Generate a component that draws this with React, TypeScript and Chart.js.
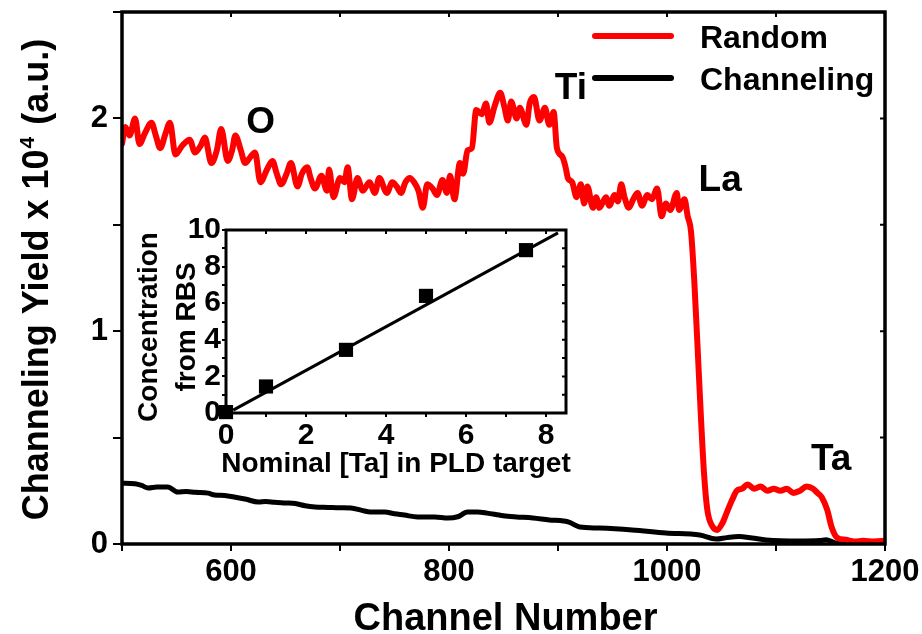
import React, { useEffect, useRef } from "react";
import { Chart, registerables } from "chart.js";

Chart.register(...registerables);

const FONT = "'Liberation Sans', Arial, Helvetica, sans-serif";

// ---- Main spectrum data ----
const randomCh = [
  500, 503, 507, 512, 516, 521, 527, 531, 535, 540, 544, 549, 555, 562, 567, 572, 576, 582, 587, 591,
  597, 601, 604, 609, 613, 618, 622, 627, 633, 638, 642, 646, 651, 655, 661, 665, 670, 673, 677, 683,
  688, 690, 694, 700, 704, 707, 711, 716, 721, 727, 732, 736, 743, 748, 752, 756, 760, 764, 768, 772,
  776, 780, 785, 789, 794, 798, 801, 805, 810, 813, 817, 821, 825, 830, 834, 837, 842, 847, 851, 854,
  857, 862, 865, 871, 874, 878, 883, 888, 892, 896, 899, 904, 907, 909, 913, 917, 921, 924, 927, 932,
  935, 938, 944, 947, 952, 955, 958, 961, 965, 969, 973, 977, 982, 986, 991, 995, 999, 1003, 1009, 1011,
  1016, 1019, 1022, 1025, 1028, 1031, 1034, 1037, 1042, 1046, 1051, 1055, 1060, 1064, 1069, 1074, 1080, 1086, 1092, 1098,
  1104, 1110, 1116, 1122, 1128, 1134, 1138, 1142, 1147, 1151, 1156, 1164, 1172, 1180, 1190, 1200,
];
const randomYield = [
  1.88, 1.96, 1.92, 2.0, 1.88, 1.93, 1.98, 1.92, 1.86, 1.93, 1.98, 1.83, 1.87, 1.9, 1.84, 1.87, 1.91, 1.79, 1.85, 1.95,
  1.8, 1.85, 1.92, 1.85, 1.79, 1.82, 1.84, 1.7, 1.76, 1.8, 1.74, 1.69, 1.74, 1.79, 1.68, 1.74, 1.77, 1.72, 1.67, 1.73,
  1.66, 1.76, 1.63, 1.72, 1.7, 1.77, 1.62, 1.72, 1.66, 1.7, 1.65, 1.72, 1.65, 1.7, 1.68, 1.65, 1.7, 1.72, 1.7, 1.66,
  1.58, 1.69, 1.67, 1.64, 1.71, 1.65, 1.73, 1.62, 1.79, 1.74, 1.85, 1.86, 2.04, 2.02, 2.07, 1.98, 2.06, 2.12, 2.05, 1.99,
  2.08, 2.0, 2.05, 1.97, 2.07, 2.1, 1.99, 2.05, 1.97, 2.03, 1.86, 1.82, 1.77, 1.72, 1.7, 1.63, 1.69, 1.6, 1.68, 1.58,
  1.63, 1.58, 1.63, 1.59, 1.64, 1.61, 1.69, 1.63, 1.58, 1.62, 1.65, 1.59, 1.64, 1.62, 1.67, 1.54, 1.6, 1.57, 1.65, 1.57,
  1.62, 1.54, 1.47, 1.24, 0.93, 0.61, 0.33, 0.16, 0.08, 0.066, 0.1, 0.15, 0.21, 0.25, 0.26, 0.28, 0.26, 0.27, 0.25, 0.26,
  0.25, 0.26, 0.24, 0.25, 0.27, 0.26, 0.24, 0.22, 0.16, 0.08, 0.03, 0.02, 0.012, 0.015, 0.012, 0.015,
];
const channelingCh = [
  500, 503, 512, 518, 524, 532, 542, 551, 559, 567, 579, 585, 594, 604, 614, 625, 632, 640, 650, 659,
  668, 677, 689, 700, 710, 720, 728, 741, 750, 759, 771, 787, 799, 808, 817, 826, 835, 846, 854, 862,
  877, 892, 905, 910, 916, 920, 938, 968, 999, 1030, 1045, 1055, 1066, 1078, 1091, 1121, 1140, 1146, 1155, 1175, 1200,
];
const channelingYield = [
  0.285, 0.286, 0.283, 0.275, 0.263, 0.268, 0.268, 0.244, 0.247, 0.243, 0.239, 0.23, 0.228, 0.22, 0.21, 0.197, 0.2, 0.196, 0.193, 0.19,
  0.18, 0.174, 0.172, 0.17, 0.169, 0.158, 0.15, 0.15, 0.142, 0.136, 0.127, 0.127, 0.122, 0.128, 0.15, 0.15, 0.145, 0.136, 0.13, 0.127,
  0.122, 0.113, 0.108, 0.103, 0.088, 0.08, 0.075, 0.066, 0.052, 0.042, 0.023, 0.03, 0.035, 0.028, 0.019, 0.014, 0.016, 0.02, 0.005, 0.004, 0.004,
];
const seriesLabels = ["Random", "Channeling"];
const seriesColors = ["#ff0000", "#000000"];
const xTickLabels = [600, 800, 1000, 1200];
const yTickLabels = [0, 1, 2];
const peakLabels = ["O", "Ti", "La", "Ta"];
const peakAnchorCh = [614, 897, 1029, 1132];
const peakAnchorYield = [1.93, 2.09, 1.66, 0.35];

// ---- Inset data ----
const insetNominal = [0, 1, 3, 5, 7.5];
const insetMeasured = [0.05, 1.45, 3.45, 6.4, 8.9];
const fitNominal = [0.18, 8.3];
const fitMeasured = [0.16, 9.84];
const insetXTickLabels = [0, 2, 4, 6, 8];
const insetYTickLabels = [0, 2, 4, 6, 8, 10];

const isIn = (list: number[], v: number) => list.some((t) => Math.abs(t - v) < 1e-6);

const mainPlugin = {
  id: "mainDecor",
  afterDraw(chart: any) {
    const ctx: CanvasRenderingContext2D = chart.ctx;
    const a = chart.chartArea;
    const xs = chart.scales.x;
    const ys = chart.scales.y;
    ctx.save();
    ctx.strokeStyle = "#000";
    ctx.lineWidth = 3.5;
    ctx.strokeRect(a.left, a.top, a.right - a.left, a.bottom - a.top);
    ctx.lineWidth = 2;
    ctx.beginPath();
    xs.ticks.forEach((t: any) => {
      const px = xs.getPixelForValue(t.value);
      ctx.moveTo(px, a.top);
      ctx.lineTo(px, a.top + 5);
    });
    ys.ticks.forEach((t: any) => {
      const py = ys.getPixelForValue(t.value);
      ctx.moveTo(a.right, py);
      ctx.lineTo(a.right - 5, py);
    });
    ctx.stroke();

    ctx.fillStyle = "#000";
    const F = 36;
    const big = `bold ${F}px ${FONT}`;
    const small = `bold 21px ${FONT}`;
    const p1 = "Channeling Yield x 10";
    const sup = "4";
    const p2 = " (a.u.)";
    ctx.font = big;
    const w1 = ctx.measureText(p1).width;
    const w3 = ctx.measureText(p2).width;
    ctx.font = small;
    const w2 = ctx.measureText(sup).width + 2;
    const total = w1 + w2 + w3;
    ctx.save();
    ctx.translate(48, (a.top + a.bottom) / 2 + 2);
    ctx.rotate(-Math.PI / 2);
    ctx.textAlign = "left";
    ctx.textBaseline = "alphabetic";
    let x = -total / 2;
    ctx.font = big;
    ctx.fillText(p1, x, 0);
    x += w1 + 1;
    ctx.font = small;
    ctx.fillText(sup, x, -14);
    x += w2;
    ctx.font = big;
    ctx.fillText(p2, x, 0);
    ctx.restore();

    ctx.font = `bold 38px ${FONT}`;
    ctx.textAlign = "center";
    ctx.textBaseline = "alphabetic";
    ctx.fillText("Channel Number", (a.left + a.right) / 2 + 2, 630);

    ctx.font = `bold 37px ${FONT}`;
    ctx.textAlign = "left";
    peakLabels.forEach((lab, i) => {
      ctx.fillText(lab, xs.getPixelForValue(peakAnchorCh[i]), ys.getPixelForValue(peakAnchorYield[i]));
    });

    ctx.font = `bold 32px ${FONT}`;
    ctx.lineCap = "round";
    chart.data.datasets.forEach((ds: any, i: number) => {
      const ly = 36 + i * 42;
      ctx.strokeStyle = ds.borderColor;
      ctx.lineWidth = 6;
      ctx.beginPath();
      ctx.moveTo(595, ly);
      ctx.lineTo(671, ly);
      ctx.stroke();
      ctx.fillStyle = "#000";
      ctx.fillText(ds.label, 700, ly + 12);
    });
    ctx.restore();
  },
};

const insetPlugin = {
  id: "insetDecor",
  afterDraw(chart: any) {
    const ctx: CanvasRenderingContext2D = chart.ctx;
    const a = chart.chartArea;
    const xs = chart.scales.x;
    const ys = chart.scales.y;
    ctx.save();
    ctx.strokeStyle = "#000";
    ctx.lineWidth = 3;
    ctx.strokeRect(a.left, a.top, a.right - a.left, a.bottom - a.top);
    ctx.lineWidth = 2;
    ctx.beginPath();
    xs.ticks.forEach((t: any) => {
      const px = xs.getPixelForValue(t.value);
      ctx.moveTo(px, a.top);
      ctx.lineTo(px, a.top + 4);
    });
    ys.ticks.forEach((t: any) => {
      const py = ys.getPixelForValue(t.value);
      ctx.moveTo(a.right, py);
      ctx.lineTo(a.right - 4, py);
    });
    ctx.stroke();

    ctx.fillStyle = "#000";
    ctx.font = `bold 28px ${FONT}`;
    ctx.textAlign = "center";
    ctx.textBaseline = "alphabetic";
    ctx.fillText("Nominal [Ta] in PLD target", (a.left + a.right) / 2, 272);

    ctx.save();
    ctx.translate(0, 127);
    ctx.rotate(-Math.PI / 2);
    ctx.fillText("Concentration", 0, 37);
    ctx.fillText("from RBS", 0, 75);
    ctx.restore();
    ctx.restore();
  },
};

export default function App() {
  const mainRef = useRef<HTMLCanvasElement | null>(null);
  const insetRef = useRef<HTMLCanvasElement | null>(null);

  useEffect(() => {
    if (!mainRef.current || !insetRef.current) return;
    const tickFont = { family: FONT, size: 31, weight: "bold" as const };
    const main = new Chart(mainRef.current, {
      type: "line",
      data: {
        datasets: [
          {
            label: seriesLabels[0],
            data: randomCh.map((x, i) => ({ x, y: randomYield[i] })),
            borderColor: seriesColors[0],
            borderWidth: 6,
            pointRadius: 0,
            cubicInterpolationMode: "monotone",
            borderJoinStyle: "round",
            borderCapStyle: "round",
          },
          {
            label: seriesLabels[1],
            data: channelingCh.map((x, i) => ({ x, y: channelingYield[i] })),
            borderColor: seriesColors[1],
            borderWidth: 5,
            pointRadius: 0,
            cubicInterpolationMode: "monotone",
            borderJoinStyle: "round",
            borderCapStyle: "round",
          },
        ],
      },
      options: {
        animation: false,
        responsive: false,
        maintainAspectRatio: false,
        devicePixelRatio: 1,
        layout: { padding: { left: 0, top: 12, right: 37, bottom: 0 } },
        plugins: { legend: { display: false }, tooltip: { enabled: false } },
        scales: {
          x: {
            type: "linear",
            min: 500,
            max: 1200,
            ticks: {
              stepSize: 100,
              autoSkip: false,
              maxRotation: 0,
              color: "#000",
              font: tickFont,
              padding: 3,
              callback: (v: any) => (isIn(xTickLabels, Number(v)) ? String(Math.round(Number(v))) : ""),
            },
            grid: { drawOnChartArea: false, drawTicks: true, tickLength: 7, color: "#000", lineWidth: 2 },
            border: { display: false },
            afterFit: (s: any) => {
              s.height = 90;
              s.paddingLeft = 0;
              s.paddingRight = 0;
            },
          },
          y: {
            type: "linear",
            min: 0,
            max: 2.5,
            ticks: {
              stepSize: 0.5,
              autoSkip: false,
              color: "#000",
              font: tickFont,
              padding: 5,
              callback: (v: any) => (isIn(yTickLabels, Number(v)) ? String(Math.round(Number(v))) : ""),
            },
            grid: { drawOnChartArea: false, drawTicks: true, tickLength: 9, color: "#000", lineWidth: 2 },
            border: { display: false },
            afterFit: (s: any) => {
              s.width = 122;
              s.paddingTop = 0;
              s.paddingBottom = 0;
            },
          },
        },
      },
      plugins: [mainPlugin],
    } as any);

    const insetFont = { family: FONT, size: 30, weight: "bold" as const };
    const inset = new Chart(insetRef.current, {
      type: "scatter",
      data: {
        datasets: [
          {
            type: "scatter",
            label: "RBS",
            data: insetNominal.map((x, i) => ({ x, y: insetMeasured[i] })),
            pointStyle: "rect",
            pointRadius: 10,
            backgroundColor: "#000",
            borderColor: "#000",
            borderWidth: 0,
            clip: false,
          },
          {
            type: "line",
            label: "fit",
            data: fitNominal.map((x, i) => ({ x, y: fitMeasured[i] })),
            borderColor: "#000",
            borderWidth: 3,
            pointRadius: 0,
            showLine: true,
          },
        ],
      },
      options: {
        animation: false,
        responsive: false,
        maintainAspectRatio: false,
        devicePixelRatio: 1,
        layout: { padding: { left: 0, top: 30, right: 24, bottom: 0 } },
        plugins: { legend: { display: false }, tooltip: { enabled: false } },
        scales: {
          x: {
            type: "linear",
            min: 0,
            max: 8.5,
            ticks: {
              stepSize: 1,
              includeBounds: false,
              autoSkip: false,
              maxRotation: 0,
              color: "#000",
              font: insetFont,
              padding: 1,
              callback: (v: any) => (isIn(insetXTickLabels, Number(v)) ? String(Math.round(Number(v))) : ""),
            },
            grid: { drawOnChartArea: false, drawTicks: true, tickLength: 4, color: "#000", lineWidth: 2 },
            border: { display: false },
            afterFit: (s: any) => {
              s.height = 77;
              s.paddingLeft = 0;
              s.paddingRight = 0;
            },
          },
          y: {
            type: "linear",
            min: 0,
            max: 10,
            ticks: {
              stepSize: 1,
              autoSkip: false,
              color: "#000",
              font: insetFont,
              padding: 1,
              callback: (v: any) => (isIn(insetYTickLabels, Number(v)) ? String(Math.round(Number(v))) : ""),
            },
            grid: { drawOnChartArea: false, drawTicks: true, tickLength: 4, color: "#000", lineWidth: 2 },
            border: { display: false },
            afterFit: (s: any) => {
              s.width = 106;
              s.paddingTop = 0;
              s.paddingBottom = 0;
            },
          },
        },
      },
      plugins: [insetPlugin],
    } as any);

    return () => {
      main.destroy();
      inset.destroy();
    };
  }, []);

  return (
    <div style={{ position: "absolute", left: 0, top: 0, width: 922, height: 634, background: "#fff" }}>
      <canvas ref={mainRef} width={922} height={634} style={{ position: "absolute", left: 0, top: 0 }} />
      <canvas ref={insetRef} width={470} height={290} style={{ position: "absolute", left: 120, top: 200 }} />
    </div>
  );
}
